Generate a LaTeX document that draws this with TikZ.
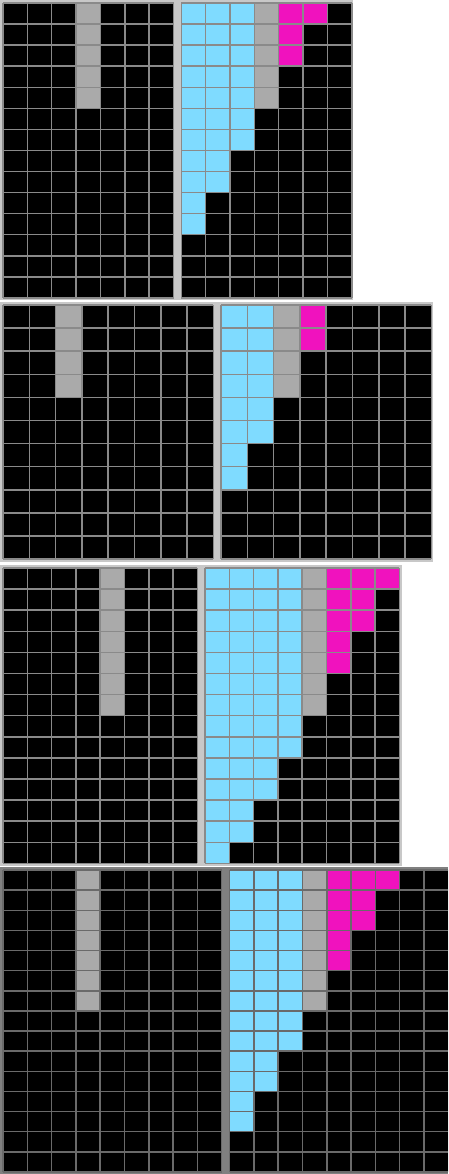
\documentclass[tikz,border=0pt]{standalone}
\usepackage{xcolor}
\definecolor{arccyan}{HTML}{7FDBFF}
\definecolor{arcmag}{HTML}{F012BE}
\definecolor{arcgray}{HTML}{AAAAAA}
\definecolor{panelbg}{HTML}{C8C8C8}
\definecolor{panelbgdark}{HTML}{808080}
\definecolor{lineclr}{HTML}{8A8A8A}
\definecolor{lineclrdark}{HTML}{6A6A6A}
\tikzset{
  gl/.style={draw=lineclr,line width=1.45pt},
  gldark/.style={draw=lineclrdark,line width=1.45pt},
  cyancell/.style={fill=arccyan},
  magcell/.style={fill=arcmag},
  graycell/.style={fill=arcgray},
}
\newcommand\mygridlines[3]{%
  \foreach \i in {0,...,#1} \draw[#3] (\i,0) -- (\i,#2);
  \foreach \j in {0,...,#2} \draw[#3] (0,\j) -- (#1,\j);
}
\begin{document}
\begin{tikzpicture}[x=1pt,y=-1pt]
\useasboundingbox (0,0) rectangle (448,1174);
\fill[white] (0,0) rectangle (448,1174);
\begin{scope}
\clip (0,0) rectangle (448,1174);
% ---------- pair 1 ----------
\fill[panelbg] (0,0) rectangle (352.8,299.5);
\begin{scope}[shift={(3,3)},x=24.36pt,y=-21.07pt]
  \fill[black] (0,0) rectangle (7,14);
  \fill[graycell] (3,0) rectangle (4,5);
  \mygridlines{7}{14}{gl}
\end{scope}
\begin{scope}[shift={(181.3,3)},x=24.36pt,y=-21.07pt]
  \fill[black] (0,0) rectangle (7,14);
  \fill[cyancell] (0,0) rectangle (3,7);
  \fill[cyancell] (0,7) rectangle (2,9);
  \fill[cyancell] (0,9) rectangle (1,11);
  \fill[graycell] (3,0) rectangle (4,5);
  \fill[magcell] (4,0) rectangle (6,1);
  \fill[magcell] (4,1) rectangle (5,3);
  \mygridlines{7}{14}{gl}
\end{scope}
% ---------- pair 2 ----------
\fill[panelbg] (0,302) rectangle (432.5,561.5);
\begin{scope}[shift={(3,305)},x=26.3pt,y=-23.1pt]
  \fill[black] (0,0) rectangle (8,11);
  \fill[graycell] (2,0) rectangle (3,4);
  \mygridlines{8}{11}{gl}
\end{scope}
\begin{scope}[shift={(221,305)},x=26.3pt,y=-23.1pt]
  \fill[black] (0,0) rectangle (8,11);
  \fill[cyancell] (0,0) rectangle (2,6);
  \fill[cyancell] (0,6) rectangle (1,8);
  \fill[graycell] (2,0) rectangle (3,4);
  \fill[magcell] (3,0) rectangle (4,2);
  \mygridlines{8}{11}{gl}
\end{scope}
% ---------- pair 3 ----------
\fill[panelbg] (0,565) rectangle (401.5,866.2);
\begin{scope}[shift={(3,568)},x=24.3pt,y=-21.1pt]
  \fill[black] (0,0) rectangle (8,14);
  \fill[graycell] (4,0) rectangle (5,7);
  \mygridlines{8}{14}{gl}
\end{scope}
\begin{scope}[shift={(205,568)},x=24.3pt,y=-21.1pt]
  \fill[black] (0,0) rectangle (8,14);
  \fill[cyancell] (0,0) rectangle (4,9);
  \fill[cyancell] (0,9) rectangle (3,11);
  \fill[cyancell] (0,11) rectangle (2,13);
  \fill[cyancell] (0,13) rectangle (1,14);
  \fill[graycell] (4,0) rectangle (5,7);
  \fill[magcell] (5,0) rectangle (8,1);
  \fill[magcell] (5,1) rectangle (7,3);
  \fill[magcell] (5,3) rectangle (6,5);
  \mygridlines{8}{14}{gl}
\end{scope}
% ---------- pair 4 ----------
\fill[panelbgdark] (0,867.3) rectangle (448,1174);
\begin{scope}[shift={(3,870)},x=24.3pt,y=-20.13pt]
  \fill[black] (0,0) rectangle (9,15);
  \fill[graycell] (3,0) rectangle (4,7);
  \mygridlines{9}{15}{gldark}
\end{scope}
\begin{scope}[shift={(229.6,870)},x=24.3pt,y=-20.13pt]
  \fill[black] (0,0) rectangle (9,15);
  \fill[cyancell] (0,0) rectangle (3,9);
  \fill[cyancell] (0,9) rectangle (2,11);
  \fill[cyancell] (0,11) rectangle (1,13);
  \fill[graycell] (3,0) rectangle (4,7);
  \fill[magcell] (4,0) rectangle (7,1);
  \fill[magcell] (4,1) rectangle (6,3);
  \fill[magcell] (4,3) rectangle (5,5);
  \mygridlines{9}{15}{gldark}
\end{scope}
\end{scope}
\end{tikzpicture}
\end{document}
